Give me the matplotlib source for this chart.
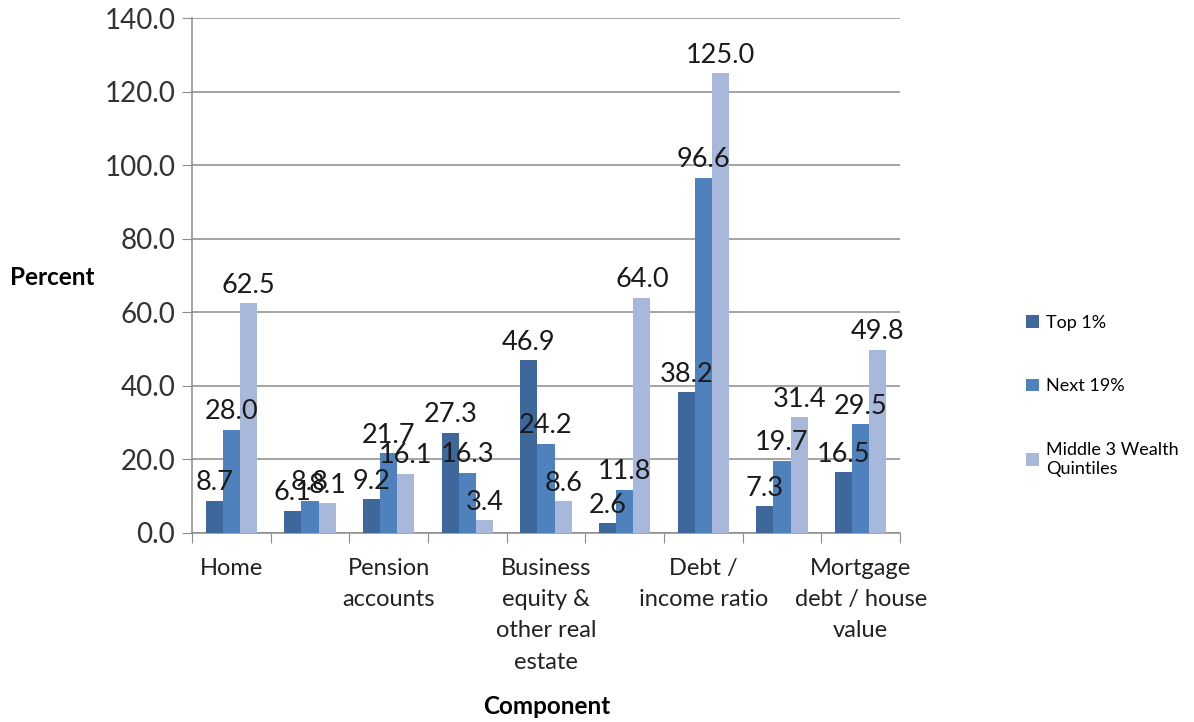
import numpy as np
import matplotlib.pyplot as plt
from matplotlib.transforms import blended_transform_factory, offset_copy

plt.rcParams['font.family'] = ['Lato', 'DejaVu Sans']

# only every other category label fits on the axis
categories = ['Home', '', 'Pension\naccounts', '', 'Business\nequity &\nother real\nestate',
              '', 'Debt /\nincome ratio', '', 'Mortgage\ndebt / house\nvalue']
series = ['Top 1%', 'Next 19%', 'Middle 3 Wealth\nQuintiles']
top1 = [8.7, 6.1, 9.2, 27.3, 46.9, 2.6, 38.2, 7.3, 16.5]
next19 = [28.0, 8.8, 21.7, 16.3, 24.2, 11.8, 96.6, 19.7, 29.5]
middle3 = [62.5, 8.1, 16.1, 3.4, 8.6, 64.0, 125.0, 31.4, 49.8]
colors = ['#3E679C', '#4F81BD', '#A7B8DA']

fig = plt.figure(figsize=(11.94, 7.22), dpi=100)
ax = fig.add_axes([0.1608, 0.2618, 0.5930, 0.7132])

x = np.arange(len(categories))
w = 0.218
for i, (vals, name, c) in enumerate(zip([top1, next19, middle3], series, colors)):
    bars = ax.bar(x + (i - 1) * w, vals, w, color=c, label=name, zorder=3)
    ax.bar_label(bars, labels=[f'{v:.1f}' for v in vals], padding=4,
                 fontsize=19.5, color='#1a1a1a', zorder=4)

ax.set_xlim(-0.5, len(categories) - 0.5)
ax.set_ylim(0, 140)
ax.set_yticks(np.arange(0, 141, 20))
ax.set_yticklabels([f'{v:.1f}' for v in np.arange(0, 141, 20)], fontsize=20, color='#333333')
ax.yaxis.grid(True, color='#8c8c8c', linewidth=1.1, zorder=0)

# ticks sit on category boundaries, labels at centres
ax.set_xticks(np.arange(-0.5, len(categories), 1))
ax.set_xticklabels([])
ax.tick_params(axis='x', which='major', length=7, color='#8c8c8c')
ax.tick_params(axis='y', length=7, color='#8c8c8c', pad=5)

trans = offset_copy(blended_transform_factory(ax.transData, ax.transAxes),
                    fig=fig, y=-18, units='points')
for xi, lab in zip(x, categories):
    ax.text(xi, 0, lab, transform=trans, ha='center', va='top', fontsize=17,
            color='#222222', linespacing=1.6)

for s in ['top', 'right']:
    ax.spines[s].set_visible(False)
for s in ['left', 'bottom']:
    ax.spines[s].set_color('#8c8c8c')
    ax.spines[s].set_linewidth(1.1)

fig.text(0.008, 0.615, 'Percent', fontsize=17.5, fontweight='bold', va='center')
fig.text(0.458, 0.022, 'Component', fontsize=17.5, fontweight='bold', ha='center', va='center')

fig.legend(loc='center left', bbox_to_anchor=(0.846, 0.452), frameon=False,
           fontsize=13, handlelength=0.7, handleheight=0.7, handletextpad=0.4,
           labelspacing=2.65)

fig.savefig('out.png', dpi=100)
